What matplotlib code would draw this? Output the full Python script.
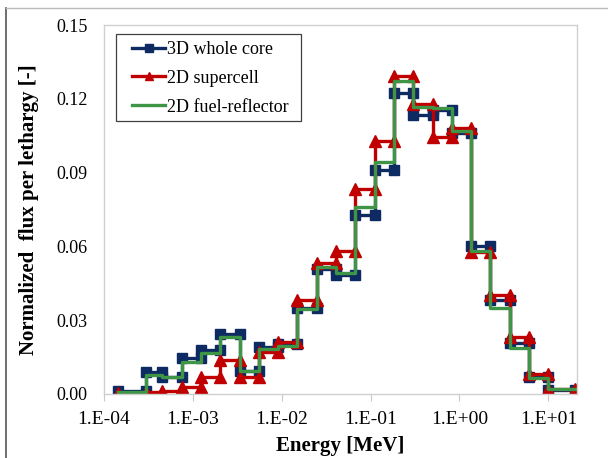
import numpy as np
import matplotlib.pyplot as plt
from matplotlib.lines import Line2D
from matplotlib.patches import Rectangle
from matplotlib.ticker import FixedLocator, FuncFormatter

# group boundaries [MeV], low to high
edges = [1.45e-4, 3.0e-4, 4.54e-4, 7.49e-4, 1.23e-3, 2.03e-3, 3.35e-3, 5.53e-3,
         9.12e-3, 1.50e-2, 2.48e-2, 4.09e-2, 6.74e-2, 0.111, 0.183, 0.302,
         0.498, 0.821, 1.353, 2.231, 3.679, 6.065, 10.0, 20.0]

# normalized flux per lethargy in each group
whole_core = [0.0010, 0.0088, 0.0070, 0.0145, 0.0177, 0.0243, 0.0094, 0.0189,
              0.0203, 0.0348, 0.0510, 0.0483, 0.0727, 0.0910, 0.1225, 0.1135,
              0.1155, 0.1062, 0.0602, 0.0381, 0.0208, 0.0070, 0.0015]
supercell = [0.0003, 0.0006, 0.0011, 0.0028, 0.0068, 0.0138, 0.0067, 0.0171,
             0.0212, 0.0380, 0.0532, 0.0580, 0.0832, 0.1030, 0.1294, 0.1179,
             0.1045, 0.1082, 0.0579, 0.0401, 0.0232, 0.0082, 0.0018]
fuel_reflector = [0.0008, 0.0078, 0.0070, 0.0130, 0.0167, 0.0230, 0.0092, 0.0183,
                  0.0195, 0.0345, 0.0516, 0.0490, 0.0759, 0.0942, 0.1271, 0.1167,
                  0.1162, 0.1068, 0.0582, 0.0351, 0.0185, 0.0063, 0.0018]

xticks = [1e-4, 1e-3, 1e-2, 1e-1, 1e0, 1e1]
xticklabels = ["1.E-04", "1.E-03", "1.E-02", "1.E-01", "1.E+00", "1.E+01"]
yticks = [0.00, 0.03, 0.06, 0.09, 0.12, 0.15]


def histogram_points(bounds, values):
    # two points per group (lower and upper bound) so the line forms steps
    xs, ys = [], []
    for i, v in enumerate(values):
        xs += [bounds[i], bounds[i + 1]]
        ys += [v, v]
    return xs, ys


plt.rcParams['font.family'] = ['Liberation Serif', 'DejaVu Serif']

fig = plt.figure(figsize=(6.08, 4.58), dpi=100)
ax = fig.add_axes([0.171, 0.140, 0.778, 0.805])

blue = '#0e2a63'
red = '#c00000'
green = '#3f9546'

x, y = histogram_points(edges, whole_core)
ax.plot(x, y, color=blue, lw=2.4, marker='s', ms=6.5, label='3D whole core')
x, y = histogram_points(edges, supercell)
ax.plot(x, y, color=red, lw=2.4, marker='^', ms=8.5, label='2D supercell')
x, y = histogram_points(edges, fuel_reflector)
ax.plot(x, y, color=green, lw=2.4, label='2D fuel-reflector')

ax.set_xscale('log')
ax.set_xlim(1e-4, 21)
ax.set_ylim(0, 0.15)
ax.xaxis.set_major_locator(FixedLocator(xticks))
ax.xaxis.set_minor_locator(FixedLocator([]))
ax.set_xticklabels(xticklabels)
ax.set_yticks(yticks)
ax.yaxis.set_major_formatter(FuncFormatter(lambda v, p: f"{v:.2f}"))

for s in ax.spines.values():
    s.set_color('#d0d0d0')
    s.set_linewidth(1.0)
ax.tick_params(axis='x', direction='out', length=5, color='#c8c8c8',
               labelsize=14, pad=7)
ax.tick_params(axis='y', length=0, labelsize=13, pad=12)

ax.set_xlabel('Energy [MeV]', fontsize=15, fontweight='bold', labelpad=6)
ax.set_ylabel('Normalized  flux per lethargy [-]', fontsize=15,
              fontweight='bold', labelpad=12)

# legend entries without frame, box drawn separately for wider side margins
leg = ax.legend(loc='upper left', bbox_to_anchor=(0.059, 0.957), fontsize=13,
                frameon=False, handlelength=1.85, handletextpad=0.1,
                labelspacing=0.65, borderpad=0, borderaxespad=0)
for h in leg.legend_handles:
    h.set_markersize(5.5)
ax.add_patch(Rectangle((0.0254, 0.740), 0.391, 0.236, transform=ax.transAxes,
                       fill=True, facecolor='white', edgecolor='#404040',
                       lw=0.9, zorder=4))
leg.set_zorder(5)

# outer frame lines on the left and top
fig.add_artist(Line2D([0.010, 0.010], [0, 0.982], color='#555555', lw=1.2,
                      transform=fig.transFigure))
fig.add_artist(Line2D([0.010, 1.0], [0.982, 0.982], color='#bbbbbb', lw=1.0,
                      transform=fig.transFigure))

fig.savefig('out.png', dpi=100)
